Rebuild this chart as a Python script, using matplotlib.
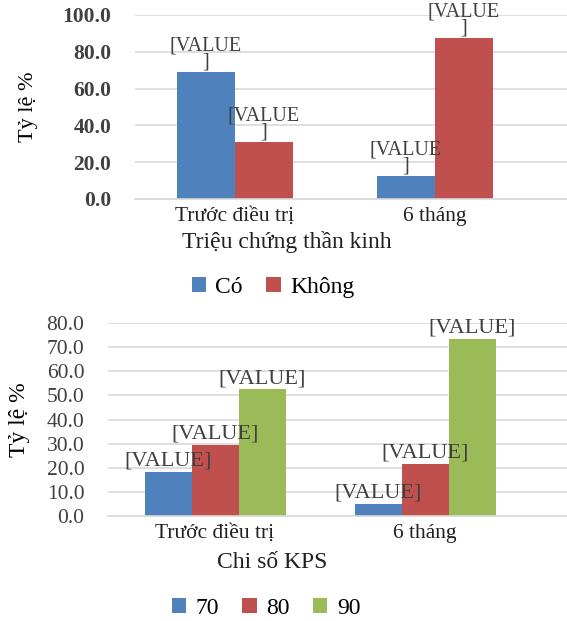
import numpy as np
import matplotlib.pyplot as plt

plt.rcParams['font.family'] = ['Liberation Serif', 'DejaVu Serif']

# Triệu chứng thần kinh
groups = ["Trước điều trị", "6 tháng"]
co = [69.2, 12.5]
khong = [30.8, 87.5]

# Chỉ số KPS
kps_70 = [18.2, 4.9]
kps_80 = [29.3, 21.6]
kps_90 = [52.5, 73.5]

blue, red, green = "#4F81BD", "#C0504D", "#9BBB59"
grid_c = "#D9D9D9"
txt_c = "#404040"

fig = plt.figure(figsize=(5.67, 6.21), dpi=100)


def style_axes(ax, ylim, step, bold):
    ax.set_ylim(*ylim)
    ax.set_yticks(np.arange(ylim[0], ylim[1] + 0.1, step))
    ax.yaxis.set_major_formatter(plt.FormatStrFormatter("%.1f"))
    ax.grid(axis="y", color=grid_c, linewidth=1.2)
    ax.set_axisbelow(True)
    for s in ["top", "right", "left"]:
        ax.spines[s].set_visible(False)
    ax.spines["bottom"].set_color(grid_c)
    ax.spines["bottom"].set_linewidth(1.2)
    ax.tick_params(axis="y", length=0, pad=17, labelsize=15.5, labelcolor=txt_c)
    ax.tick_params(axis="x", length=0, pad=6, labelsize=15.5, labelcolor="#202020")
    if bold:
        for t in ax.get_yticklabels():
            t.set_fontweight("bold")


def put_labels(ax, bars, text, dy, size=16, ls=1.0):
    for b in bars:
        ax.annotate(text, (b.get_x() + b.get_width() / 2, b.get_height()),
                    xytext=(0, dy), textcoords="offset points",
                    ha="center", va="bottom", fontsize=size, color=txt_c,
                    linespacing=ls)


# ---- biểu đồ trên ----
ax1 = fig.add_axes([135 / 567, 1 - 199 / 621, 1 - 135 / 567, 184 / 621])
x = np.arange(len(groups))
w = 0.29
b1 = ax1.bar(x - w / 2, co, w, color=blue, label="Có")
b2 = ax1.bar(x + w / 2, khong, w, color=red, label="Không")
ax1.set_xlim(-0.5, 1.66)
ax1.set_xticks(x)
ax1.set_xticklabels(groups)
style_axes(ax1, (0, 100), 20, True)
ax1.set_ylabel("Tỷ lệ %", fontsize=16, labelpad=18)
put_labels(ax1, list(b1) + list(b2), "[VALUE\n]", 0.3, size=14.5, ls=0.8)
fig.text(287 / 567, 1 - 242 / 621, "Triệu chứng thần kinh", ha="center",
         va="center", fontsize=17, color="#202020")
fig.legend(handles=[b1, b2], loc="center", bbox_to_anchor=(273 / 567, 1 - 287 / 621),
           ncol=2, frameon=False, fontsize=17, handlelength=0.6, handleheight=0.6,
           handletextpad=0.4, columnspacing=1.0)

# ---- biểu đồ dưới ----
ax2 = fig.add_axes([108 / 567, 1 - 515.7 / 621, 1 - 108 / 567, 192.4 / 621])
w2 = 0.224
c1 = ax2.bar(x - w2, kps_70, w2, color=blue, label="70")
c2 = ax2.bar(x, kps_80, w2, color=red, label="80")
c3 = ax2.bar(x + w2, kps_90, w2, color=green, label="90")
ax2.set_xlim(-0.51, 1.676)
ax2.set_xticks(x)
ax2.set_xticklabels(groups)
style_axes(ax2, (0, 80), 10, False)
ax2.set_ylabel("Tỷ lệ %", fontsize=17, labelpad=12)
put_labels(ax2, list(c1) + list(c2) + list(c3), "[VALUE]", 1)
fig.text(272 / 567, 1 - 562 / 621, "Chi số KPS", ha="center",
         va="center", fontsize=17, color="#202020")
fig.legend(handles=[c1, c2, c3], loc="center", bbox_to_anchor=(266 / 567, 1 - 608 / 621),
           ncol=3, frameon=False, fontsize=17, handlelength=0.6, handleheight=0.6,
           handletextpad=0.4, columnspacing=1.0)

fig.savefig("out.png", dpi=100)
